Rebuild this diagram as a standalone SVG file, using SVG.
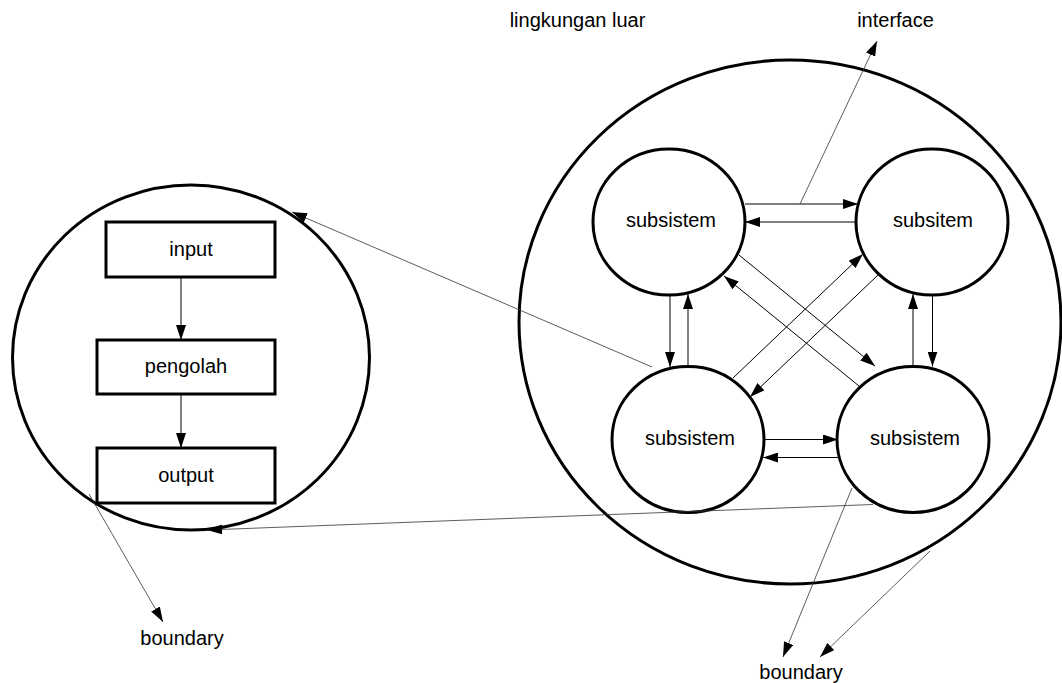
<svg xmlns="http://www.w3.org/2000/svg" width="1062" height="683" viewBox="0 0 1062 683">
<defs>
<marker id="ah" markerUnits="userSpaceOnUse" markerWidth="15" markerHeight="10" refX="15" refY="5" orient="auto"><path d="M0,0 L15,5 L0,10 z" fill="#000"/></marker>
</defs>
<style>
.t{font-family:"Liberation Sans",Arial,sans-serif;font-size:20px;fill:#000;text-anchor:middle}
.big{fill:none;stroke:#000;stroke-width:3}
.node{fill:#fff;stroke:#000;stroke-width:3}
.c{stroke:#000;stroke-width:1;fill:none;marker-end:url(#ah)}
.th{stroke:#333;stroke-width:0.8;fill:none;marker-end:url(#ah)}
</style>
<rect width="1062" height="683" fill="#fff"/>
<g id="sistem-kiri"><ellipse class="big" cx="191" cy="357.5" rx="178.5" ry="172.5"/></g>
<g id="sistem-kanan"><ellipse class="big" cx="790" cy="322" rx="271" ry="262"/></g>
<g id="input"><rect class="node" x="106" y="222" width="169" height="55"/><text class="t" x="191" y="256">input</text></g>
<g id="pengolah"><rect class="node" x="97" y="340" width="178" height="54"/><text class="t" x="186" y="373">pengolah</text></g>
<g id="output"><rect class="node" x="97" y="448" width="178" height="55"/><text class="t" x="186" y="482">output</text></g>
<g id="sub-tl"><ellipse class="node" cx="669" cy="222" rx="76" ry="73"/><text class="t" x="671" y="227">subsistem</text></g>
<g id="sub-tr"><ellipse class="node" cx="932" cy="222" rx="76" ry="73"/><text class="t" x="933" y="227">subsitem</text></g>
<g id="sub-bl"><ellipse class="node" cx="688" cy="439.5" rx="76" ry="73"/><text class="t" x="690" y="445">subsistem</text></g>
<g id="sub-br"><ellipse class="node" cx="913" cy="439.5" rx="76" ry="73"/><text class="t" x="915" y="445">subsistem</text></g>
<g id="labels">
<text class="t" x="577.5" y="27">lingkungan luar</text>
<text class="t" x="895.5" y="27">interface</text>
<text class="t" x="182" y="645">boundary</text>
<text class="t" x="801" y="679">boundary</text>
</g>
<g id="connectors">
<line class="c" x1="181" y1="277" x2="181" y2="340"/>
<line class="c" x1="181" y1="394" x2="181" y2="448"/>
<line class="c" x1="745" y1="204" x2="858" y2="204"/>
<line class="c" x1="857" y1="222" x2="745" y2="222"/>
<line class="c" x1="670" y1="295" x2="670" y2="367"/>
<line class="c" x1="688" y1="366.5" x2="688" y2="294"/>
<line class="c" x1="913" y1="366.5" x2="913" y2="294"/>
<line class="c" x1="932.5" y1="295" x2="932.5" y2="366.5"/>
<line class="c" x1="764" y1="439.5" x2="838" y2="439.5"/>
<line class="c" x1="839" y1="457.5" x2="763" y2="457.5"/>
<line class="c" x1="739" y1="255" x2="875" y2="366"/>
<line class="c" x1="859" y1="386" x2="724" y2="276"/>
<line class="c" x1="733" y1="378" x2="863" y2="254"/>
<line class="c" x1="878" y1="275" x2="750" y2="397"/>
<line class="th" x1="800" y1="204" x2="877" y2="41"/>
<line class="th" x1="652" y1="367" x2="292" y2="212"/>
<line class="th" x1="873" y1="504.5" x2="207" y2="530"/>
<line class="th" x1="89" y1="494" x2="163" y2="622"/>
<line class="th" x1="852" y1="488" x2="783" y2="657"/>
<line class="th" x1="930" y1="551" x2="820" y2="657"/>
</g>
</svg>
